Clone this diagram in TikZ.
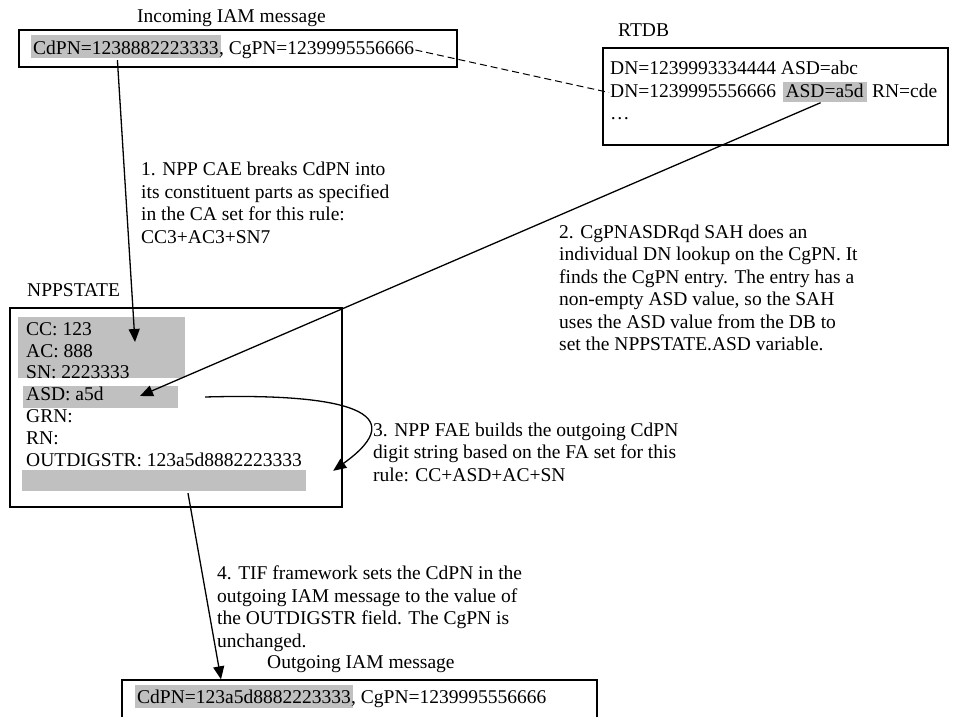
\documentclass[tikz,border=0pt]{standalone}
\usepackage{fontspec}
\setmainfont{Liberation Serif}
\usetikzlibrary{arrows.meta}
\definecolor{hlgray}{RGB}{192,192,192}
\begin{document}
\begin{tikzpicture}[x=1pt,y=-1pt,
  every node/.style={font=\fontsize{19.5}{22.5}\selectfont, inner sep=0pt},
  txt/.style={anchor=base west},
  lbl/.style={anchor=north west, align=left},
  frame/.style={draw, line width=1.3pt},
  hlbox/.style={fill=hlgray},
  arr/.style={line width=1.3pt, -{Triangle[length=13pt,width=11pt]}},
  dashline/.style={line width=1pt, dash pattern=on 7pt off 4pt}
]
\useasboundingbox (0,0) rectangle (954,717);

% ---- Incoming IAM message ----
\node[txt] (intitle) at (137,23) {Incoming IAM message};
\node[frame, minimum width=438pt, minimum height=37pt] (inbox) at (238,48.5) {};
\node[txt, fill=hlgray, inner xsep=2pt, text height=20pt, text depth=3pt] (cdpn) at (31,55) {CdPN=1238882223333};
\node[txt] (cgpn) at ([xshift=-2pt]cdpn.base east) {, CgPN=1239995556666};

% ---- RTDB ----
\node[txt] (rttitle) at (618,37) {RTDB};
\node[frame, minimum width=345pt, minimum height=97pt] (rtbox) at (775.5,96.5) {};
\node[txt] (rt1) at (610,75) {DN=1239993334444 ASD=abc};
\node[txt] (rt2a) at (610,97.5) {DN=1239995556666};
\node[txt, fill=hlgray, inner xsep=3pt, text height=15pt, text depth=5pt] (rt2b) at ([xshift=6pt]rt2a.base east) {ASD=a5d};
\node[txt] (rt2c) at ([xshift=5pt]rt2b.base east) {RN=cde};
\node[txt] (rt3) at (610,120) {…};

% ---- NPPSTATE ----
\node[txt] (nptitle) at (27,296) {NPPSTATE};
\node[frame, minimum width=332pt, minimum height=199pt] (npbox) at (176,407.5) {};
\node[hlbox, minimum width=167pt, minimum height=61pt] (g1) at (101.5,347.5) {};
\node[hlbox, minimum width=155pt, minimum height=22pt] (g2) at (100.5,397) {};
\node[hlbox, minimum width=284pt, minimum height=21pt] (g3) at (164,480.5) {};
\node[txt] (np1) at (26,335) {CC: 123};
\node[txt] (np2) at (26,357) {AC: 888};
\node[txt] (np3) at (26,378) {SN: 2223333};
\node[txt] (np4) at (26,400) {ASD: a5d};
\node[txt] (np5) at (26,422) {GRN:};
\node[txt] (np6) at (26,444) {RN:};
\node[txt] (np7) at (26,466) {OUTDIGSTR: 123a5d8882223333};

% ---- Outgoing IAM message ----
\node[txt] (outtitle) at (267,668) {Outgoing IAM message};
\begin{scope}
\clip (0,0) rectangle (954,717);
\node[frame, minimum width=475pt, minimum height=60pt] (outbox) at (359.5,710) {};
\end{scope}
\node[txt, fill=hlgray, inner xsep=2pt, text height=18pt, text depth=5pt] (ocdpn) at (135,703) {CdPN=123a5d8882223333};
\node[txt] (ocgpn) at ([xshift=-2pt]ocdpn.base east) {, CgPN=1239995556666};

% ---- Labels ----
\node[lbl] (l1) at (141,162) {1. NPP CAE breaks CdPN into\\its constituent parts as specified\\in the CA set for this rule:\\CC3+AC3+SN7};
\node[lbl] (l2) at (559,224.7) {2. CgPNASDRqd SAH does an\\individual DN lookup on the CgPN. It\\finds the CgPN entry. The entry has a\\non-empty ASD value, so the SAH\\uses the ASD value from the DB to\\set the NPPSTATE.ASD variable.};
\node[lbl] (l3) at (373,422.7) {3. NPP FAE builds the outgoing CdPN\\digit string based on the FA set for this\\rule: CC+ASD+AC+SN};
\node[lbl] (l4) at (217,566) {4. TIF framework sets the CdPN in the\\outgoing IAM message to the value of\\the OUTDIGSTR field. The CgPN is\\unchanged.};

% ---- Connectors ----
\draw[dashline] ([xshift=1pt,yshift=5pt]cgpn.base east) -- ([xshift=-1pt,yshift=5pt]rt2a.base west);
\draw[arr] ([xshift=-8.5pt,yshift=-2pt]cdpn.south) -- ([xshift=33.5pt,yshift=5.5pt]g1.center);
\draw[arr] ([xshift=-4pt]rt2b.south) -- ([xshift=39.5pt,yshift=1pt]g2.center);
\draw[arr] ([xshift=27pt]g2.east) .. controls (345,393) and (415,412) .. ([xshift=27pt,yshift=-1pt]g3.north east);
\draw[arr] ([xshift=24pt,yshift=-2pt]g3.south) -- ([xshift=-138.5pt]outbox.north);
\end{tikzpicture}
\end{document}
